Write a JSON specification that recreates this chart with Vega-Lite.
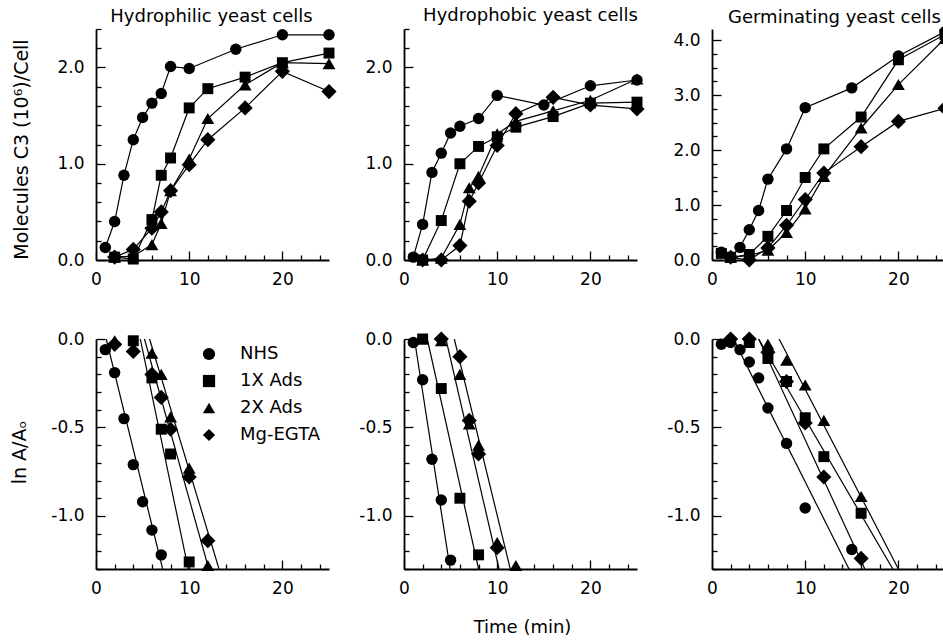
{
"$schema": "https://vega.github.io/schema/vega-lite/v6.json",
"autosize": "none",
"padding": {"left": 96, "top": 29, "right": 847, "bottom": 611},
"background": "white",
"bounds": "flush",
"columns": 3,
"spacing": {"row": 79, "column": 75},
"config": {
  "view": {"stroke": null},
  "font": "DejaVu Sans",
  "axis": {"domainColor": "black", "domainWidth": 1.8, "tickColor": "black", "tickWidth": 1.3, "labelColor": "black", "labelFont": "DejaVu Sans", "labelFontSize": 17, "titleFont": "DejaVu Sans", "titleFontSize": 19, "titleFontWeight": "normal", "titleColor": "black", "grid": false, "labelFlush": false, "labelOverlap": false, "labelBound": false},
  "axisX": {"labelPadding": 20},
  "axisY": {"labelPadding": 21},
  "title": {"font": "DejaVu Sans", "fontSize": 18, "fontWeight": "normal", "color": "black", "anchor": "middle", "offset": 3, "baseline": "alphabetic", "frame": "group"}
},
"datasets": {
  "pts": [
    {"p":"A","s":"NHS","t":1,"v":0.13},{"p":"A","s":"NHS","t":2,"v":0.40},{"p":"A","s":"NHS","t":3,"v":0.88},{"p":"A","s":"NHS","t":4,"v":1.25},{"p":"A","s":"NHS","t":5,"v":1.48},{"p":"A","s":"NHS","t":6,"v":1.63},{"p":"A","s":"NHS","t":7,"v":1.73},{"p":"A","s":"NHS","t":8,"v":2.01},{"p":"A","s":"NHS","t":10,"v":1.99},{"p":"A","s":"NHS","t":15,"v":2.19},{"p":"A","s":"NHS","t":20,"v":2.34},{"p":"A","s":"NHS","t":25,"v":2.34},
    {"p":"A","s":"1X Ads","t":2,"v":0.03},{"p":"A","s":"1X Ads","t":4,"v":0.01},{"p":"A","s":"1X Ads","t":6,"v":0.42},{"p":"A","s":"1X Ads","t":7,"v":0.88},{"p":"A","s":"1X Ads","t":8,"v":1.06},{"p":"A","s":"1X Ads","t":10,"v":1.58},{"p":"A","s":"1X Ads","t":12,"v":1.78},{"p":"A","s":"1X Ads","t":16,"v":1.90},{"p":"A","s":"1X Ads","t":20,"v":2.05},{"p":"A","s":"1X Ads","t":25,"v":2.15},
    {"p":"A","s":"2X Ads","t":2,"v":0.03},{"p":"A","s":"2X Ads","t":4,"v":0.04},{"p":"A","s":"2X Ads","t":6,"v":0.16},{"p":"A","s":"2X Ads","t":7,"v":0.38},{"p":"A","s":"2X Ads","t":8,"v":0.72},{"p":"A","s":"2X Ads","t":10,"v":1.05},{"p":"A","s":"2X Ads","t":12,"v":1.47},{"p":"A","s":"2X Ads","t":16,"v":1.82},{"p":"A","s":"2X Ads","t":20,"v":2.05},{"p":"A","s":"2X Ads","t":25,"v":2.04},
    {"p":"A","s":"Mg-EGTA","t":2,"v":0.03},{"p":"A","s":"Mg-EGTA","t":4,"v":0.11},{"p":"A","s":"Mg-EGTA","t":6,"v":0.33},{"p":"A","s":"Mg-EGTA","t":7,"v":0.50},{"p":"A","s":"Mg-EGTA","t":8,"v":0.72},{"p":"A","s":"Mg-EGTA","t":10,"v":0.99},{"p":"A","s":"Mg-EGTA","t":12,"v":1.25},{"p":"A","s":"Mg-EGTA","t":16,"v":1.58},{"p":"A","s":"Mg-EGTA","t":20,"v":1.96},{"p":"A","s":"Mg-EGTA","t":25,"v":1.75},

    {"p":"B","s":"NHS","t":1,"v":0.03},{"p":"B","s":"NHS","t":2,"v":0.37},{"p":"B","s":"NHS","t":3,"v":0.91},{"p":"B","s":"NHS","t":4,"v":1.11},{"p":"B","s":"NHS","t":5,"v":1.32},{"p":"B","s":"NHS","t":6,"v":1.39},{"p":"B","s":"NHS","t":8,"v":1.47},{"p":"B","s":"NHS","t":10,"v":1.71},{"p":"B","s":"NHS","t":15,"v":1.61},{"p":"B","s":"NHS","t":20,"v":1.81},{"p":"B","s":"NHS","t":25,"v":1.87},
    {"p":"B","s":"1X Ads","t":2,"v":0.0},{"p":"B","s":"1X Ads","t":4,"v":0.41},{"p":"B","s":"1X Ads","t":6,"v":1.0},{"p":"B","s":"1X Ads","t":8,"v":1.18},{"p":"B","s":"1X Ads","t":10,"v":1.28},{"p":"B","s":"1X Ads","t":12,"v":1.38},{"p":"B","s":"1X Ads","t":16,"v":1.49},{"p":"B","s":"1X Ads","t":20,"v":1.63},{"p":"B","s":"1X Ads","t":25,"v":1.64},
    {"p":"B","s":"2X Ads","t":2,"v":0.0},{"p":"B","s":"2X Ads","t":4,"v":0.02},{"p":"B","s":"2X Ads","t":6,"v":0.37},{"p":"B","s":"2X Ads","t":7,"v":0.75},{"p":"B","s":"2X Ads","t":8,"v":0.87},{"p":"B","s":"2X Ads","t":10,"v":1.31},{"p":"B","s":"2X Ads","t":12,"v":1.44},{"p":"B","s":"2X Ads","t":16,"v":1.55},{"p":"B","s":"2X Ads","t":20,"v":1.66},{"p":"B","s":"2X Ads","t":25,"v":1.88},
    {"p":"B","s":"Mg-EGTA","t":2,"v":0.0},{"p":"B","s":"Mg-EGTA","t":4,"v":0.0},{"p":"B","s":"Mg-EGTA","t":6,"v":0.15},{"p":"B","s":"Mg-EGTA","t":7,"v":0.61},{"p":"B","s":"Mg-EGTA","t":8,"v":0.80},{"p":"B","s":"Mg-EGTA","t":10,"v":1.19},{"p":"B","s":"Mg-EGTA","t":12,"v":1.52},{"p":"B","s":"Mg-EGTA","t":16,"v":1.69},{"p":"B","s":"Mg-EGTA","t":20,"v":1.61},{"p":"B","s":"Mg-EGTA","t":25,"v":1.57},

    {"p":"C","s":"NHS","t":1,"v":0.14},{"p":"C","s":"NHS","t":2,"v":0.05},{"p":"C","s":"NHS","t":3,"v":0.23},{"p":"C","s":"NHS","t":4,"v":0.55},{"p":"C","s":"NHS","t":5,"v":0.90},{"p":"C","s":"NHS","t":6,"v":1.47},{"p":"C","s":"NHS","t":8,"v":2.02},{"p":"C","s":"NHS","t":10,"v":2.77},{"p":"C","s":"NHS","t":15,"v":3.13},{"p":"C","s":"NHS","t":20,"v":3.71},{"p":"C","s":"NHS","t":25,"v":4.15},
    {"p":"C","s":"1X Ads","t":1,"v":0.12},{"p":"C","s":"1X Ads","t":2,"v":0.05},{"p":"C","s":"1X Ads","t":4,"v":0.10},{"p":"C","s":"1X Ads","t":6,"v":0.43},{"p":"C","s":"1X Ads","t":8,"v":0.90},{"p":"C","s":"1X Ads","t":10,"v":1.50},{"p":"C","s":"1X Ads","t":12,"v":2.02},{"p":"C","s":"1X Ads","t":16,"v":2.60},{"p":"C","s":"1X Ads","t":20,"v":3.64},{"p":"C","s":"1X Ads","t":25,"v":4.10},
    {"p":"C","s":"2X Ads","t":2,"v":0.05},{"p":"C","s":"2X Ads","t":4,"v":0.08},{"p":"C","s":"2X Ads","t":6,"v":0.18},{"p":"C","s":"2X Ads","t":8,"v":0.50},{"p":"C","s":"2X Ads","t":10,"v":0.93},{"p":"C","s":"2X Ads","t":12,"v":1.52},{"p":"C","s":"2X Ads","t":16,"v":2.40},{"p":"C","s":"2X Ads","t":20,"v":3.19},{"p":"C","s":"2X Ads","t":25,"v":4.03},
    {"p":"C","s":"Mg-EGTA","t":2,"v":0.05},{"p":"C","s":"Mg-EGTA","t":4,"v":0.0},{"p":"C","s":"Mg-EGTA","t":6,"v":0.22},{"p":"C","s":"Mg-EGTA","t":8,"v":0.63},{"p":"C","s":"Mg-EGTA","t":10,"v":1.10},{"p":"C","s":"Mg-EGTA","t":12,"v":1.58},{"p":"C","s":"Mg-EGTA","t":16,"v":2.06},{"p":"C","s":"Mg-EGTA","t":20,"v":2.52},{"p":"C","s":"Mg-EGTA","t":25,"v":2.76},

    {"p":"D","s":"NHS","t":1,"v":-0.06},{"p":"D","s":"NHS","t":2,"v":-0.19},{"p":"D","s":"NHS","t":3,"v":-0.45},{"p":"D","s":"NHS","t":4,"v":-0.71},{"p":"D","s":"NHS","t":5,"v":-0.92},{"p":"D","s":"NHS","t":6,"v":-1.08},{"p":"D","s":"NHS","t":7,"v":-1.22},
    {"p":"D","s":"1X Ads","t":4,"v":-0.01},{"p":"D","s":"1X Ads","t":6,"v":-0.22},{"p":"D","s":"1X Ads","t":7,"v":-0.51},{"p":"D","s":"1X Ads","t":8,"v":-0.65},{"p":"D","s":"1X Ads","t":10,"v":-1.26},
    {"p":"D","s":"2X Ads","t":2,"v":-0.01},{"p":"D","s":"2X Ads","t":6,"v":-0.08},{"p":"D","s":"2X Ads","t":7,"v":-0.20},{"p":"D","s":"2X Ads","t":8,"v":-0.44},{"p":"D","s":"2X Ads","t":10,"v":-0.73},{"p":"D","s":"2X Ads","t":12,"v":-1.28},
    {"p":"D","s":"Mg-EGTA","t":2,"v":-0.03},{"p":"D","s":"Mg-EGTA","t":4,"v":-0.07},{"p":"D","s":"Mg-EGTA","t":6,"v":-0.20},{"p":"D","s":"Mg-EGTA","t":7,"v":-0.33},{"p":"D","s":"Mg-EGTA","t":8,"v":-0.51},{"p":"D","s":"Mg-EGTA","t":10,"v":-0.78},{"p":"D","s":"Mg-EGTA","t":12,"v":-1.14},

    {"p":"E","s":"NHS","t":1,"v":-0.02},{"p":"E","s":"NHS","t":2,"v":-0.23},{"p":"E","s":"NHS","t":3,"v":-0.68},{"p":"E","s":"NHS","t":4,"v":-0.91},{"p":"E","s":"NHS","t":5,"v":-1.25},
    {"p":"E","s":"1X Ads","t":2,"v":0.0},{"p":"E","s":"1X Ads","t":4,"v":-0.28},{"p":"E","s":"1X Ads","t":6,"v":-0.90},{"p":"E","s":"1X Ads","t":8,"v":-1.22},
    {"p":"E","s":"2X Ads","t":2,"v":0.0},{"p":"E","s":"2X Ads","t":4,"v":-0.01},{"p":"E","s":"2X Ads","t":6,"v":-0.20},{"p":"E","s":"2X Ads","t":7,"v":-0.48},{"p":"E","s":"2X Ads","t":8,"v":-0.60},{"p":"E","s":"2X Ads","t":10,"v":-1.15},{"p":"E","s":"2X Ads","t":12,"v":-1.28},
    {"p":"E","s":"Mg-EGTA","t":4,"v":0.0},{"p":"E","s":"Mg-EGTA","t":6,"v":-0.10},{"p":"E","s":"Mg-EGTA","t":7,"v":-0.46},{"p":"E","s":"Mg-EGTA","t":8,"v":-0.65},{"p":"E","s":"Mg-EGTA","t":10,"v":-1.18},

    {"p":"F","s":"NHS","t":1,"v":-0.03},{"p":"F","s":"NHS","t":2,"v":-0.02},{"p":"F","s":"NHS","t":3,"v":-0.06},{"p":"F","s":"NHS","t":4,"v":-0.13},{"p":"F","s":"NHS","t":5,"v":-0.22},{"p":"F","s":"NHS","t":6,"v":-0.39},{"p":"F","s":"NHS","t":8,"v":-0.59},{"p":"F","s":"NHS","t":10,"v":-0.955},{"p":"F","s":"NHS","t":15,"v":-1.19},
    {"p":"F","s":"1X Ads","t":4,"v":-0.02},{"p":"F","s":"1X Ads","t":6,"v":-0.11},{"p":"F","s":"1X Ads","t":8,"v":-0.24},{"p":"F","s":"1X Ads","t":10,"v":-0.445},{"p":"F","s":"1X Ads","t":12,"v":-0.665},{"p":"F","s":"1X Ads","t":16,"v":-0.985},
    {"p":"F","s":"2X Ads","t":2,"v":0.0},{"p":"F","s":"2X Ads","t":6,"v":-0.03},{"p":"F","s":"2X Ads","t":8,"v":-0.12},{"p":"F","s":"2X Ads","t":10,"v":-0.26},{"p":"F","s":"2X Ads","t":12,"v":-0.46},{"p":"F","s":"2X Ads","t":16,"v":-0.89},
    {"p":"F","s":"Mg-EGTA","t":2,"v":0.0},{"p":"F","s":"Mg-EGTA","t":4,"v":0.0},{"p":"F","s":"Mg-EGTA","t":6,"v":-0.075},{"p":"F","s":"Mg-EGTA","t":8,"v":-0.24},{"p":"F","s":"Mg-EGTA","t":10,"v":-0.475},{"p":"F","s":"Mg-EGTA","t":12,"v":-0.78},{"p":"F","s":"Mg-EGTA","t":16,"v":-1.24}
  ],
  "fits": [
    {"p":"D","s":"NHS","t":1.1,"v":0},{"p":"D","s":"NHS","t":7.15,"v":-1.3},
    {"p":"D","s":"1X Ads","t":4.75,"v":0},{"p":"D","s":"1X Ads","t":9.9,"v":-1.3},
    {"p":"D","s":"2X Ads","t":5.2,"v":0},{"p":"D","s":"2X Ads","t":12.1,"v":-1.3},
    {"p":"D","s":"Mg-EGTA","t":5.75,"v":0},{"p":"D","s":"Mg-EGTA","t":13.2,"v":-1.3},
    {"p":"E","s":"NHS","t":1.12,"v":0},{"p":"E","s":"NHS","t":4.95,"v":-1.3},
    {"p":"E","s":"1X Ads","t":2.5,"v":0},{"p":"E","s":"1X Ads","t":8.0,"v":-1.3},
    {"p":"E","s":"2X Ads","t":5.4,"v":0},{"p":"E","s":"2X Ads","t":11.4,"v":-1.3},
    {"p":"E","s":"Mg-EGTA","t":4.5,"v":0},{"p":"E","s":"Mg-EGTA","t":10.2,"v":-1.3},
    {"p":"F","s":"NHS","t":2.3,"v":0},{"p":"F","s":"NHS","t":14.7,"v":-1.3},
    {"p":"F","s":"1X Ads","t":5.0,"v":0},{"p":"F","s":"1X Ads","t":19.4,"v":-1.3},
    {"p":"F","s":"2X Ads","t":7.2,"v":0},{"p":"F","s":"2X Ads","t":20.0,"v":-1.3},
    {"p":"F","s":"Mg-EGTA","t":5.0,"v":0},{"p":"F","s":"Mg-EGTA","t":16.4,"v":-1.3}
  ]
},
"concat": [
  {
    "width": 233, "height": 231,
    "title": {"text": "Hydrophilic yeast cells", "dx": -1, "dy": 1},
    "data": {"name": "pts"},
    "transform": [{"filter": "datum.p === 'A'"}],
    "encoding": {
      "x": {"field": "t", "type": "quantitative", "scale": {"domain": [0, 25], "nice": false},
        "axis": {"title": null, "values": [0,2,4,6,8,10,12,14,16,18,20,22,24], "labelExpr": "datum.value % 10 === 0 ? format(datum.value, 'd') : ''", "labelFontSize": {"condition": {"test": "datum.value % 10 === 0", "value": 17}, "value": 0}, "tickSize": {"condition": {"test": "datum.value % 10 === 0", "value": -9}, "value": -5}}},
      "y": {"field": "v", "type": "quantitative", "scale": {"domain": [0, 2.4], "nice": false},
        "axis": {"title": "Molecules C3 (10⁶)/Cell", "titleX": -75, "titleY": 120, "titleBaseline": "middle", "titleAngle": 270, "values": [0,0.2,0.4,0.6,0.8,1,1.2,1.4,1.6,1.8,2,2.2,2.4], "labelExpr": "abs(datum.value - round(datum.value)) < 0.001 ? format(datum.value, '.1f') : ''", "labelFontSize": {"condition": {"test": "abs(datum.value - round(datum.value)) < 0.001", "value": 17}, "value": 0}, "tickSize": {"condition": {"test": "abs(datum.value - round(datum.value)) < 0.001", "value": -9}, "value": -5}}}
    },
    "layer": [
      {"mark": {"type": "line", "color": "black", "strokeWidth": 1.2}, "encoding": {"detail": {"field": "s"}}},
      {"mark": {"type": "point", "filled": true, "color": "black", "opacity": 1, "size": {"expr": "datum.s === 'Mg-EGTA' ? 230 : datum.s === '2X Ads' ? 165 : datum.s === '1X Ads' ? 120 : 130"}}, "encoding": {"shape": {"field": "s", "type": "nominal", "scale": {"domain": ["NHS","1X Ads","2X Ads","Mg-EGTA"], "range": ["circle","square","triangle-up","diamond"]}, "legend": null}}}
    ]
  },
  {
    "width": 233, "height": 231,
    "title": {"text": "Hydrophobic yeast cells", "dx": 10},
    "data": {"name": "pts"},
    "transform": [{"filter": "datum.p === 'B'"}],
    "encoding": {
      "x": {"field": "t", "type": "quantitative", "scale": {"domain": [0, 25], "nice": false},
        "axis": {"title": null, "values": [0,2,4,6,8,10,12,14,16,18,20,22,24], "labelExpr": "datum.value % 10 === 0 ? format(datum.value, 'd') : ''", "labelFontSize": {"condition": {"test": "datum.value % 10 === 0", "value": 17}, "value": 0}, "tickSize": {"condition": {"test": "datum.value % 10 === 0", "value": -9}, "value": -5}}},
      "y": {"field": "v", "type": "quantitative", "scale": {"domain": [0, 2.4], "nice": false},
        "axis": {"title": null, "values": [0,0.2,0.4,0.6,0.8,1,1.2,1.4,1.6,1.8,2,2.2,2.4], "labelExpr": "abs(datum.value - round(datum.value)) < 0.001 ? format(datum.value, '.1f') : ''", "labelFontSize": {"condition": {"test": "abs(datum.value - round(datum.value)) < 0.001", "value": 17}, "value": 0}, "tickSize": {"condition": {"test": "abs(datum.value - round(datum.value)) < 0.001", "value": -9}, "value": -5}}}
    },
    "layer": [
      {"mark": {"type": "line", "color": "black", "strokeWidth": 1.2}, "encoding": {"detail": {"field": "s"}}},
      {"mark": {"type": "point", "filled": true, "color": "black", "opacity": 1, "size": {"expr": "datum.s === 'Mg-EGTA' ? 230 : datum.s === '2X Ads' ? 165 : datum.s === '1X Ads' ? 120 : 130"}}, "encoding": {"shape": {"field": "s", "type": "nominal", "scale": {"domain": ["NHS","1X Ads","2X Ads","Mg-EGTA"], "range": ["circle","square","triangle-up","diamond"]}, "legend": null}}}
    ]
  },
  {
    "width": 233, "height": 231,
    "title": {"text": "Germinating yeast cells", "dx": 6, "dy": 4},
    "data": {"name": "pts"},
    "transform": [{"filter": "datum.p === 'C'"}],
    "encoding": {
      "x": {"field": "t", "type": "quantitative", "scale": {"domain": [0, 25], "nice": false},
        "axis": {"title": null, "values": [0,2,4,6,8,10,12,14,16,18,20,22,24], "labelExpr": "datum.value % 10 === 0 ? format(datum.value, 'd') : ''", "labelFontSize": {"condition": {"test": "datum.value % 10 === 0", "value": 17}, "value": 0}, "tickSize": {"condition": {"test": "datum.value % 10 === 0", "value": -9}, "value": -5}}},
      "y": {"field": "v", "type": "quantitative", "scale": {"domain": [0, 4.2], "nice": false},
        "axis": {"title": null, "values": [0,0.25,0.5,0.75,1,1.25,1.5,1.75,2,2.25,2.5,2.75,3,3.25,3.5,3.75,4], "labelExpr": "abs(datum.value - round(datum.value)) < 0.001 ? format(datum.value, '.1f') : ''", "labelFontSize": {"condition": {"test": "abs(datum.value - round(datum.value)) < 0.001", "value": 17}, "value": 0}, "tickSize": {"condition": {"test": "abs(datum.value - round(datum.value)) < 0.001", "value": -9}, "value": -5}}}
    },
    "layer": [
      {"mark": {"type": "line", "color": "black", "strokeWidth": 1.2}, "encoding": {"detail": {"field": "s"}}},
      {"mark": {"type": "point", "filled": true, "color": "black", "opacity": 1, "size": {"expr": "datum.s === 'Mg-EGTA' ? 230 : datum.s === '2X Ads' ? 165 : datum.s === '1X Ads' ? 120 : 130"}}, "encoding": {"shape": {"field": "s", "type": "nominal", "scale": {"domain": ["NHS","1X Ads","2X Ads","Mg-EGTA"], "range": ["circle","square","triangle-up","diamond"]}, "legend": null}}}
    ]
  },
  {
    "width": 233, "height": 230,
    "data": {"name": "pts"},
    "transform": [{"filter": "datum.p === 'D'"}],
    "encoding": {
      "x": {"field": "t", "type": "quantitative", "scale": {"domain": [0, 25], "nice": false},
        "axis": {"title": null, "values": [0,2,4,6,8,10,12,14,16,18,20,22,24], "labelExpr": "datum.value % 10 === 0 ? format(datum.value, 'd') : ''", "labelFontSize": {"condition": {"test": "datum.value % 10 === 0", "value": 17}, "value": 0}, "tickSize": {"condition": {"test": "datum.value % 10 === 0", "value": -9}, "value": -5}}},
      "y": {"field": "v", "type": "quantitative", "scale": {"domain": [-1.3, 0], "nice": false, "zero": false},
        "axis": {"title": "ln A/Aₒ", "titleX": -77, "titleY": 113, "titleBaseline": "middle", "titleAngle": 270, "values": [0,-0.1,-0.2,-0.3,-0.4,-0.5,-0.6,-0.7,-0.8,-0.9,-1,-1.1,-1.2,-1.3], "labelExpr": "abs(datum.value*2 - round(datum.value*2)) < 0.001 ? replace(format(datum.value, '.1f'), '−', '-') : ''", "labelFontSize": {"condition": {"test": "abs(datum.value*2 - round(datum.value*2)) < 0.001", "value": 17}, "value": 0}, "tickSize": {"condition": {"test": "abs(datum.value*2 - round(datum.value*2)) < 0.001", "value": -9}, "value": -5}}}
    },
    "layer": [
      {"data": {"name": "fits"}, "transform": [{"filter": "datum.p === 'D'"}], "mark": {"type": "line", "color": "black", "strokeWidth": 1.2, "clip": true}, "encoding": {"detail": {"field": "s"}}},
      {"mark": {"type": "point", "filled": true, "color": "black", "opacity": 1, "size": {"expr": "datum.s === 'Mg-EGTA' ? 230 : datum.s === '2X Ads' ? 165 : datum.s === '1X Ads' ? 120 : 130"}}, "encoding": {"shape": {"field": "s", "type": "nominal", "scale": {"domain": ["NHS","1X Ads","2X Ads","Mg-EGTA"], "range": ["circle","square","triangle-up","diamond"]},
        "legend": {"title": null, "orient": "none", "legendX": 104, "legendY": 6, "labelFont": "DejaVu Sans", "labelFontSize": 18, "labelColor": "black", "symbolSize": 150, "symbolFillColor": "black", "symbolStrokeColor": "black", "symbolStrokeWidth": 0, "symbolOpacity": 1, "rowPadding": 9, "labelOffset": 22, "padding": 0,
          "encode": {"symbols": {"update": {"size": {"signal": "datum.value === 'Mg-EGTA' ? 230 : datum.value === '2X Ads' ? 165 : datum.value === '1X Ads' ? 120 : 130"}}}}}}}}
    ]
  },
  {
    "width": 233, "height": 230,
    "data": {"name": "pts"},
    "transform": [{"filter": "datum.p === 'E'"}],
    "encoding": {
      "x": {"field": "t", "type": "quantitative", "scale": {"domain": [0, 25], "nice": false},
        "axis": {"title": "Time (min)", "titleX": 118, "titleY": 58, "titleBaseline": "middle", "titleFontSize": 18, "values": [0,2,4,6,8,10,12,14,16,18,20,22,24], "labelExpr": "datum.value % 10 === 0 ? format(datum.value, 'd') : ''", "labelFontSize": {"condition": {"test": "datum.value % 10 === 0", "value": 17}, "value": 0}, "tickSize": {"condition": {"test": "datum.value % 10 === 0", "value": -9}, "value": -5}}},
      "y": {"field": "v", "type": "quantitative", "scale": {"domain": [-1.3, 0], "nice": false, "zero": false},
        "axis": {"title": null, "values": [0,-0.1,-0.2,-0.3,-0.4,-0.5,-0.6,-0.7,-0.8,-0.9,-1,-1.1,-1.2,-1.3], "labelExpr": "abs(datum.value*2 - round(datum.value*2)) < 0.001 ? replace(format(datum.value, '.1f'), '−', '-') : ''", "labelFontSize": {"condition": {"test": "abs(datum.value*2 - round(datum.value*2)) < 0.001", "value": 17}, "value": 0}, "tickSize": {"condition": {"test": "abs(datum.value*2 - round(datum.value*2)) < 0.001", "value": -9}, "value": -5}}}
    },
    "layer": [
      {"data": {"name": "fits"}, "transform": [{"filter": "datum.p === 'E'"}], "mark": {"type": "line", "color": "black", "strokeWidth": 1.2, "clip": true}, "encoding": {"detail": {"field": "s"}}},
      {"mark": {"type": "point", "filled": true, "color": "black", "opacity": 1, "size": {"expr": "datum.s === 'Mg-EGTA' ? 230 : datum.s === '2X Ads' ? 165 : datum.s === '1X Ads' ? 120 : 130"}}, "encoding": {"shape": {"field": "s", "type": "nominal", "scale": {"domain": ["NHS","1X Ads","2X Ads","Mg-EGTA"], "range": ["circle","square","triangle-up","diamond"]}, "legend": null}}}
    ]
  },
  {
    "width": 233, "height": 230,
    "data": {"name": "pts"},
    "transform": [{"filter": "datum.p === 'F'"}],
    "encoding": {
      "x": {"field": "t", "type": "quantitative", "scale": {"domain": [0, 25], "nice": false},
        "axis": {"title": null, "values": [0,2,4,6,8,10,12,14,16,18,20,22,24], "labelExpr": "datum.value % 10 === 0 ? format(datum.value, 'd') : ''", "labelFontSize": {"condition": {"test": "datum.value % 10 === 0", "value": 17}, "value": 0}, "tickSize": {"condition": {"test": "datum.value % 10 === 0", "value": -9}, "value": -5}}},
      "y": {"field": "v", "type": "quantitative", "scale": {"domain": [-1.3, 0], "nice": false, "zero": false},
        "axis": {"title": null, "values": [0,-0.1,-0.2,-0.3,-0.4,-0.5,-0.6,-0.7,-0.8,-0.9,-1,-1.1,-1.2,-1.3], "labelExpr": "abs(datum.value*2 - round(datum.value*2)) < 0.001 ? replace(format(datum.value, '.1f'), '−', '-') : ''", "labelFontSize": {"condition": {"test": "abs(datum.value*2 - round(datum.value*2)) < 0.001", "value": 17}, "value": 0}, "tickSize": {"condition": {"test": "abs(datum.value*2 - round(datum.value*2)) < 0.001", "value": -9}, "value": -5}}}
    },
    "layer": [
      {"data": {"name": "fits"}, "transform": [{"filter": "datum.p === 'F'"}], "mark": {"type": "line", "color": "black", "strokeWidth": 1.2, "clip": true}, "encoding": {"detail": {"field": "s"}}},
      {"mark": {"type": "point", "filled": true, "color": "black", "opacity": 1, "size": {"expr": "datum.s === 'Mg-EGTA' ? 230 : datum.s === '2X Ads' ? 165 : datum.s === '1X Ads' ? 120 : 130"}}, "encoding": {"shape": {"field": "s", "type": "nominal", "scale": {"domain": ["NHS","1X Ads","2X Ads","Mg-EGTA"], "range": ["circle","square","triangle-up","diamond"]}, "legend": null}}}
    ]
  }
],
"resolve": {"scale": {"x": "independent", "y": "independent", "shape": "independent"}, "axis": {"x": "independent", "y": "independent"}, "legend": {"shape": "independent"}}
}
